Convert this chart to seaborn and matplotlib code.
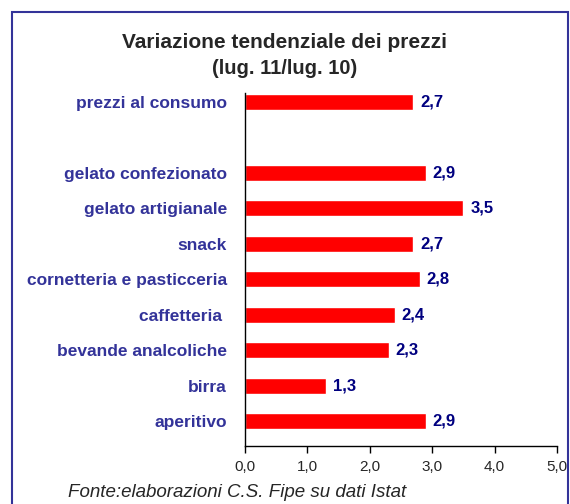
import pandas as pd
import seaborn as sns
import matplotlib.pyplot as plt
from matplotlib.patches import Rectangle

# Data
categories = ['prezzi al consumo', 'gelato confezionato', 'gelato artigianale', 'snack',
              'cornetteria e pasticceria', 'caffetteria ', 'bevande analcoliche', 'birra', 'aperitivo']
values = [2.7, 2.9, 3.5, 2.7, 2.8, 2.4, 2.3, 1.3, 2.9]
# order with an empty slot after the first bar
order = ['prezzi al consumo', ' ', 'gelato confezionato', 'gelato artigianale', 'snack',
         'cornetteria e pasticceria', 'caffetteria ', 'bevande analcoliche', 'birra', 'aperitivo']
xticks = [0, 1, 2, 3, 4, 5]

df = pd.DataFrame({'categoria': categories, 'valore': values})

sns.set_style('white')
plt.rcParams['font.family'] = ['Liberation Sans', 'DejaVu Sans']

fig = plt.figure(figsize=(5.7, 5.04), dpi=100)
ax = fig.add_axes([0.43, 0.115, 0.547, 0.70])

sns.barplot(data=df, x='valore', y='categoria', order=order, color='#ff0000',
            saturation=1, width=0.45, orient='h', ax=ax)

# value labels
for cat, v in zip(categories, values):
    ax.text(v + 0.11, order.index(cat), f'{v:.1f}'.replace('.', ','), va='center', ha='left',
            color='#000080', fontsize=12, fontweight='bold')

ax.set_xlim(0, 5)
ax.set_ylim(len(order) - 0.3, -0.25)
ax.set_xticks(xticks)
ax.set_xticklabels([f'{t:.1f}'.replace('.', ',') for t in xticks], fontsize=11)
ax.tick_params(axis='x', direction='out', length=5, width=1, color='black', pad=5, bottom=True)
ax.tick_params(axis='y', length=0, pad=13)
for lab in ax.get_yticklabels():
    lab.set_color('#333399')
    lab.set_fontweight('bold')
    lab.set_fontsize(12.5)
ax.set_xlabel('')
ax.set_ylabel('')
for s in ['top', 'right']:
    ax.spines[s].set_visible(False)
for s in ['left', 'bottom']:
    ax.spines[s].set_color('black')
    ax.spines[s].set_linewidth(1)

fig.text(0.5, 0.915, 'Variazione tendenziale dei prezzi', ha='center', va='center',
         fontsize=15, fontweight='bold')
fig.text(0.5, 0.864, '(lug. 11/lug. 10)', ha='center', va='center',
         fontsize=14.5, fontweight='bold')
fig.text(0.12, 0.022, 'Fonte:elaborazioni C.S. Fipe su dati Istat', ha='left', va='center',
         fontsize=13.5, style='italic')

# frame around the chart
fig.patches.append(Rectangle((12 / 570, -0.05), 556 / 570, 1 - 12 / 504 + 0.05,
                             transform=fig.transFigure, fill=False,
                             edgecolor='#333399', linewidth=1.5))

plt.savefig('out.png', dpi=100)
